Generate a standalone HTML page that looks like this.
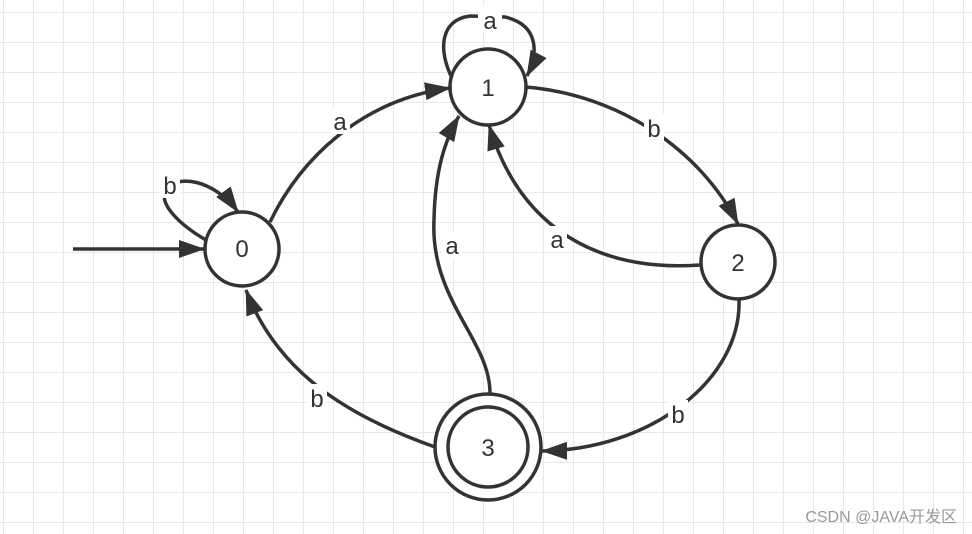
<!DOCTYPE html>
<html><head><meta charset="utf-8"><style>
html,body{margin:0;padding:0;background:#fff;}
svg{display:block;}
text{font-family:"Liberation Sans","DejaVu Sans",sans-serif;}
</style></head><body>
<svg width="972" height="534" viewBox="0 0 972 534" xmlns="http://www.w3.org/2000/svg">
<defs>
<pattern id="g" x="3" y="12" width="30" height="30" patternUnits="userSpaceOnUse">
<path d="M0 0H30M0 0V30" stroke="#e8e8e8" stroke-width="2" fill="none"/>
</pattern>
<marker id="a" viewBox="0 0 26 18" refX="25" refY="9" markerWidth="26" markerHeight="18" markerUnits="userSpaceOnUse" orient="auto">
<path d="M0 0L26 9L0 18Z" fill="#333"/>
</marker>
</defs>
<rect width="972" height="534" fill="url(#g)"/>
<g stroke="#333" stroke-width="3.5" fill="none">
<circle cx="242" cy="249" r="37" fill="#fff"/>
<circle cx="488" cy="87" r="38" fill="#fff"/>
<circle cx="738" cy="262" r="37" fill="#fff"/>
<circle cx="488" cy="447" r="53" fill="#fff"/>
<circle cx="488" cy="447" r="40" fill="#fff"/>
<path d="M73 249H204" marker-end="url(#a)"/>
<path d="M270 222C300 160 360 100 450 88" marker-end="url(#a)"/>
<path d="M206 240C180 225 160 205 165 192C175 172 215 180 238 212" marker-end="url(#a)"/>
<path d="M452 78C438 50 440 20 470 16L505 17C540 25 538 55 527 76" marker-end="url(#a)"/>
<path d="M526 87C620 95 700 150 738 224" marker-end="url(#a)"/>
<path d="M700 265C600 272 520 230 489 125" marker-end="url(#a)"/>
<path d="M490 393C490 340 430 300 434 220C435 170 445 140 459 116" marker-end="url(#a)"/>
<path d="M739 299C742 380 650 450 542 451" marker-end="url(#a)"/>
<path d="M435 447C360 420 280 380 246 290" marker-end="url(#a)"/>
</g>
<g font-size="24" fill="#333" text-anchor="middle">
<text x="242" y="257">0</text>
<text x="488" y="96">1</text>
<text x="738" y="271">2</text>
<text x="488" y="456">3</text>
</g>
<g font-size="24" fill="#333" text-anchor="middle">
<rect x="330" y="108" width="20" height="26" fill="#fff"/><text x="340" y="130">a</text>
<rect x="160" y="172" width="20" height="26" fill="#fff"/><text x="170" y="194">b</text>
<rect x="478" y="6" width="24" height="26" fill="#fff"/><text x="490" y="29">a</text>
<rect x="644" y="114" width="20" height="28" fill="#fff"/><text x="654" y="137">b</text>
<rect x="547" y="226" width="20" height="26" fill="#fff"/><text x="557" y="248">a</text>
<rect x="442" y="231" width="20" height="28" fill="#fff"/><text x="452" y="254">a</text>
<rect x="668" y="400" width="20" height="28" fill="#fff"/><text x="678" y="423">b</text>
<rect x="307" y="384" width="20" height="28" fill="#fff"/><text x="317" y="407">b</text>
</g>
<text x="957" y="522" font-size="16" fill="#999" text-anchor="end" style="font-family:'Liberation Sans','Noto Sans CJK SC',sans-serif">CSDN @JAVA开发区</text>
</svg>
</body></html>
